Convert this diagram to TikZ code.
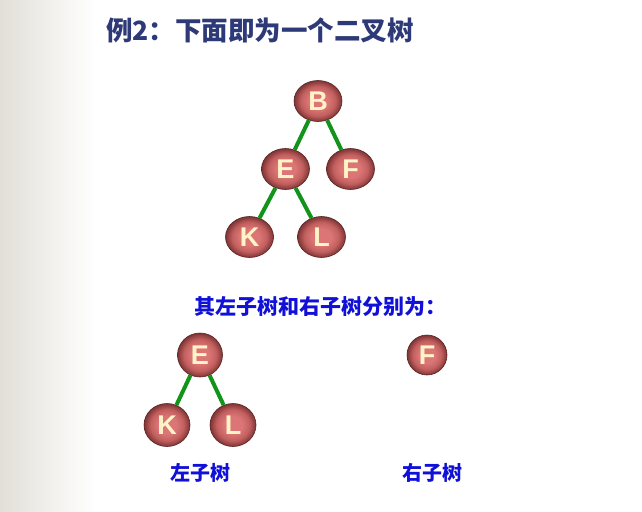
\documentclass[tikz,border=0pt]{standalone}
\usepackage{fontspec}
\setmainfont{Liberation Sans}
\newfontfamily\cjk{Noto Sans CJK SC}
\usetikzlibrary{shapes,shapes.geometric,calc}
\definecolor{ballin}{HTML}{DC7676}
\definecolor{ballmid}{HTML}{C25F5F}
\definecolor{ballout}{HTML}{7E3434}
\definecolor{edgegreen}{HTML}{12931A}
\definecolor{letter}{HTML}{FFF4C8}
\definecolor{titleblue}{HTML}{2E3A78}
\definecolor{subblue}{HTML}{1010D8}
\definecolor{sidegray}{HTML}{E2DFD8}
\pgfdeclareradialshading{redball}{\pgfpointorigin}{color(0bp)=(ballin); color(10bp)=(ballin); color(18bp)=(ballmid); color(25bp)=(ballout); color(50bp)=(ballout)}

\begin{document}
\begin{tikzpicture}[x=1pt,y=-1pt]
				\tikzstyle{ball}=[ellipse, draw=ballout!70!black, line width=0.6pt, shading=redball, minimum width=48pt, minimum height=41pt, inner sep=0pt, text=letter, font=\fontsize{27}{27}\selectfont\bfseries]
				\tikzstyle{label}=[rectangle, draw=none, shade=false, inner sep=0pt, minimum size=0pt]
				\tikzstyle{every node}=[ball]
				\tikzstyle{edge from parent}=[draw=edgegreen, line width=4pt]
				\useasboundingbox (0,0) rectangle (642,511);
				\fill[white] (0,0) rectangle (642,511);
				\shade[left color=sidegray, right color=white] (0,0) rectangle (95,511);
				\node[label, text=titleblue, anchor=west, font=\fontsize{26.5}{26.5}\selectfont\cjk\bfseries] (title) at (106,30) {例2：下面即为一个二叉树};
				% whole tree
				\node (b) at (318,101) {B}
					[sibling distance=65pt, level distance=68pt]
					child {node (e) {E}
						[sibling distance=72pt]
						child {node (k) {K}}
						child {node (l) {L}}
					}
					child {node (f) {F}};
				\node[label, text=subblue, font=\fontsize{21}{21}\selectfont\cjk\bfseries] (sub) at (320,307) {其左子树和右子树分别为：};
				% its two subtrees
				\node[minimum width=45pt, minimum height=44pt] (le) at (200,355) {E}
					[sibling distance=66pt, level distance=70pt]
					child {node[minimum width=46pt, minimum height=43pt] (lk) {K}}
					child {node[minimum width=46pt, minimum height=43pt] (ll) {L}};
				\node[minimum width=40pt, minimum height=40pt] (rf) at (427,355) {F};
				\node[label, text=subblue, font=\fontsize{20}{20}\selectfont\cjk\bfseries] (left) at (200,473) {左子树};
				\node[label, text=subblue, font=\fontsize{20}{20}\selectfont\cjk\bfseries] (right) at (432,473) {右子树};
			\end{tikzpicture}
\end{document}
